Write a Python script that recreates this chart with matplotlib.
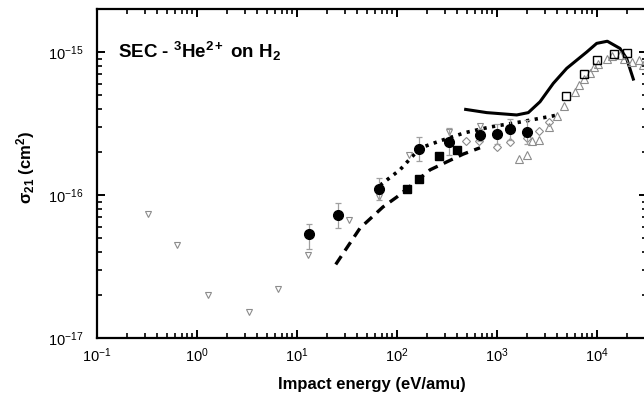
import numpy as np
import matplotlib
matplotlib.use("Agg")
import matplotlib.pyplot as plt
from matplotlib.ticker import LogLocator, NullFormatter

########################################################
# Data
########################################################

# filled circles with error bars
circ_e = [13.3, 25.9, 66, 166, 334, 676, 1000, 1340, 2010]
circ_s = [5.3e-17, 7.2e-17, 1.11e-16, 2.09e-16, 2.36e-16, 2.65e-16, 2.68e-16, 2.88e-16, 2.77e-16]
circ_hi = [6.3e-17, 8.8e-17, 1.32e-16, 2.53e-16, 2.92e-16, 2.9e-16, 3.15e-16, 3.42e-16, 3.36e-16]
circ_lo = [4.2e-17, 5.9e-17, 9.3e-17, 1.72e-16, 1.91e-16, 2.4e-16, 2.28e-16, 2.42e-16, 2.28e-16]

# filled squares
sq_e = [125, 165, 265, 395]
sq_s = [1.10e-16, 1.29e-16, 1.88e-16, 2.06e-16]

# open squares
osq_e = [4932, 7464, 9931, 14860, 19800]
osq_s = [4.94e-16, 7.01e-16, 8.75e-16, 9.68e-16, 9.79e-16]

# open diamonds
dia_e = [339, 495, 668, 1000, 1334, 1982, 2649, 3327]
dia_s = [2.31e-16, 2.40e-16, 2.39e-16, 2.15e-16, 2.34e-16, 2.49e-16, 2.79e-16, 3.23e-16]

# open up triangles
up_e = [1671, 1982, 2254, 2630, 3311, 4009, 4677, 6026, 6607, 7464, 8511, 9333,
        10300, 12500, 14030, 16980, 18620, 22230, 26300, 28600]
up_s = [1.78e-16, 1.91e-16, 2.39e-16, 2.43e-16, 3.0e-16, 3.56e-16, 4.21e-16, 5.22e-16,
        5.87e-16, 6.47e-16, 7.1e-16, 7.89e-16, 8.2e-16, 8.9e-16, 9.4e-16, 9.5e-16,
        8.9e-16, 8.55e-16, 8.8e-16, 8.1e-16]

# open down triangles
dn_e = [0.324, 0.631, 1.29, 3.31, 6.46, 12.9, 33.1, 66, 132, 334, 676]
dn_s = [7.36e-17, 4.47e-17, 2.0e-17, 1.52e-17, 2.2e-17, 3.8e-17, 6.68e-17, 9.73e-17,
        1.9e-16, 2.74e-16, 3.05e-16]

# solid curve
solid_e = [486, 789, 1574, 2056, 2692, 3656, 4977, 7889, 9931, 12680, 16980, 19800, 23070]
solid_s = [3.97e-16, 3.77e-16, 3.63e-16, 3.77e-16, 4.49e-16, 6.04e-16, 7.69e-16, 1.0e-15,
           1.15e-15, 1.19e-15, 1.06e-15, 9.0e-16, 6.47e-16]

# dashed curve
dash_e = [24.4, 42.7, 72.4, 100, 214, 457, 676]
dash_s = [3.27e-17, 5.87e-17, 8.25e-17, 9.7e-17, 1.50e-16, 1.93e-16, 2.14e-16]

# dotted curve
dot_e = [67.6, 107, 170, 269, 479, 851, 1700, 3980]
dot_s = [1.17e-16, 1.50e-16, 2.13e-16, 2.39e-16, 2.73e-16, 2.99e-16, 3.24e-16, 3.62e-16]

# axis ticks
x_ticks = [1e-1, 1e0, 1e1, 1e2, 1e3, 1e4]
y_ticks = [1e-17, 1e-16, 1e-15]

########################################################
# Style
########################################################

plt.rcParams['font.family'] = ['Liberation Sans', 'DejaVu Sans']
plt.rcParams['mathtext.fontset'] = 'custom'
plt.rcParams['mathtext.rm'] = 'Liberation Sans'
plt.rcParams['mathtext.it'] = 'Liberation Sans:italic'
plt.rcParams['mathtext.bf'] = 'Liberation Sans:bold'

GRAY = '#8c8c8c'

########################################################
# Plot
########################################################

fig = plt.figure(figsize=(6.44, 3.98), dpi=100)
ax = fig.add_axes([97 / 644, 1 - 338 / 398, 550 / 644, 329 / 398])

ax.plot(solid_e, solid_s, '-', color='black', lw=2.2, zorder=3)
ax.plot(dash_e, dash_s, '--', color='black', lw=2.4, dashes=(3, 2.0),
        dash_capstyle='butt', zorder=3)
ax.plot(dot_e, dot_s, ':', color='black', lw=2.6, dashes=(0.9, 1.5),
        dash_capstyle='butt', zorder=3)

ax.plot(dn_e, dn_s, 'v', ms=5, mfc='none', mec=GRAY, mew=0.8, ls='none', zorder=4)
ax.plot(up_e, up_s, '^', ms=5.5, mfc='none', mec=GRAY, mew=0.8, ls='none', zorder=4)
ax.plot(dia_e, dia_s, 'D', ms=4.5, mfc='none', mec=GRAY, mew=0.8, ls='none', zorder=4)
ax.plot(osq_e, osq_s, 's', ms=6, mfc='none', mec='black', mew=1.0, ls='none', zorder=5)
ax.plot(sq_e, sq_s, 's', ms=5.5, color='black', ls='none', zorder=5)

yerr = [np.array(circ_s) - np.array(circ_lo), np.array(circ_hi) - np.array(circ_s)]
ax.errorbar(circ_e, circ_s, yerr=yerr, fmt='o', ms=7, color='black',
            ecolor='#a0a0a0', elinewidth=0.9, capsize=2, capthick=0.9, zorder=6)

ax.set_xscale('log')
ax.set_yscale('log')
ax.set_xlim(0.1, 10 ** 4.5)
ax.set_ylim(1e-17, 2e-15)
ax.set_xticks(x_ticks)
ax.set_yticks(y_ticks)

# ticks on all four sides, pointing inwards
ax.tick_params(which='both', direction='in', top=True, right=True, labelsize=10.5)
ax.tick_params(which='major', length=6, width=1.4)
ax.tick_params(which='minor', length=3.5, width=1.2)
ax.xaxis.set_minor_locator(LogLocator(base=10, subs=np.arange(2, 10)))
ax.yaxis.set_minor_locator(LogLocator(base=10, subs=np.arange(2, 10)))
ax.xaxis.set_minor_formatter(NullFormatter())
ax.yaxis.set_minor_formatter(NullFormatter())
ax.tick_params(axis='x', which='major', pad=6)
ax.tick_params(axis='y', which='major', pad=10)

for sp in ax.spines.values():
    sp.set_linewidth(1.6)

ax.set_xlabel('Impact energy (eV/amu)', fontsize=12, fontweight='bold', labelpad=9)
ax.set_ylabel(r'$\mathbf{\sigma_{21}}$ (cm$^\mathbf{2}$)', fontsize=12, fontweight='bold')
ax.yaxis.set_label_coords(-0.109, 0.517)

ax.text(0.038, 0.85, r'SEC - $^\mathbf{3}$He$^\mathbf{2+}$ on H$_\mathbf{2}$',
        transform=ax.transAxes, fontsize=13.5, fontweight='bold')

fig.savefig('out.png', dpi=100)
